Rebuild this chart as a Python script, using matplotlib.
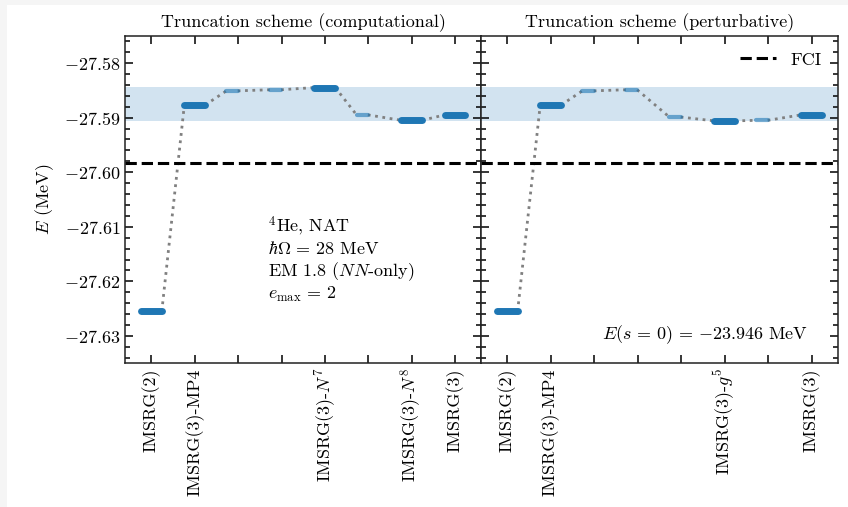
import numpy as np
import matplotlib.pyplot as plt
from matplotlib.patches import Rectangle
from matplotlib.ticker import MultipleLocator

plt.rcParams.update({
    'font.family': 'serif',
    'font.serif': ['cmr10'],
    'mathtext.fontset': 'cm',
    'axes.formatter.use_mathtext': True,
    'font.size': 13,
    'axes.linewidth': 1.1,
    'axes.edgecolor': '#222222',
})

# ground-state energies (MeV) for each truncation step
fci = -27.59835
band_lo, band_hi = -27.5906, -27.5844
e_s0 = -23.946

comp_labels = ['IMSRG(2)', 'IMSRG(3)-MP4', '', '', r'IMSRG(3)-$N^7$', '', r'IMSRG(3)-$N^8$', 'IMSRG(3)']
comp_energies = [-27.6255, -27.5877, -27.5851, -27.5849, -27.5845, -27.5895, -27.5905, -27.5895]
comp_major = [True, True, False, False, True, False, True, True]

pert_labels = ['IMSRG(2)', 'IMSRG(3)-MP4', '', '', '', r'IMSRG(3)-$g^5$', '', 'IMSRG(3)']
pert_energies = [-27.6255, -27.5877, -27.5851, -27.5849, -27.5899, -27.5906, -27.5905, -27.5895]
pert_major = [True, True, False, False, False, True, False, True]

blue = '#1f77b4'


def draw_levels(ax, energies, major):
    x = np.arange(len(energies))
    major = np.array(major)
    left = np.where(major, x - 0.24, x - 0.27)
    right = np.where(major, x + 0.24, x - 0.01)
    for i in range(len(energies) - 1):
        ax.plot([right[i], left[i + 1]], [energies[i], energies[i + 1]],
                ls=':', color='gray', lw=2, zorder=2)
    for i in x:
        if major[i]:
            ax.plot([left[i], right[i]], [energies[i]] * 2, color=blue,
                    lw=5, solid_capstyle='round', zorder=3)
        else:
            ax.plot([left[i], right[i]], [energies[i]] * 2, color=blue, alpha=0.6,
                    lw=3, solid_capstyle='round', zorder=3)


def style_axes(ax, labels):
    ax.axhspan(band_lo, band_hi, color=blue, alpha=0.2, lw=0, zorder=1)
    ax.axhline(fci, color='k', ls='--', lw=2.2, zorder=4, label='FCI')
    ax.set_xlim(-0.6, 7.6)
    ax.set_ylim(-27.635, -27.575)
    ax.set_xticks(np.arange(len(labels)))
    ax.set_xticklabels(labels, rotation=90)
    ax.yaxis.set_major_locator(MultipleLocator(0.01))
    ax.yaxis.set_minor_locator(MultipleLocator(0.002))
    ax.tick_params(which='both', direction='in', top=True, right=True, width=1.1)
    ax.tick_params(which='major', length=6)
    ax.tick_params(which='minor', length=3.5)


fig = plt.figure(figsize=(8.48, 5.07), dpi=100, facecolor='#f5f5f5')
fig.patches.append(Rectangle((7 / 848, 0), 1, 1 - 5 / 507, transform=fig.transFigure,
                             facecolor='white', edgecolor='none', zorder=-10))

ax1 = fig.add_axes([0.1478, 0.2834, 0.4195, 0.6462])
ax2 = fig.add_axes([0.5673, 0.2834, 0.4205, 0.6462], sharey=ax1)

draw_levels(ax1, comp_energies, comp_major)
draw_levels(ax2, pert_energies, pert_major)
style_axes(ax1, comp_labels)
style_axes(ax2, pert_labels)
ax2.tick_params(labelleft=False)

ax1.set_title('Truncation scheme (computational)', fontsize=13, pad=6)
ax2.set_title('Truncation scheme (perturbative)', fontsize=13, pad=6)
ax1.set_ylabel(r'$E$ (MeV)', labelpad=6)

info = [r'$^4$He, NAT', r'$\hbar\Omega\,=\,28$ MeV', r'EM 1.8 ($NN$-only)',
        r'$e_\mathrm{max}\,=\,2$']
for k, line in enumerate(info):
    ax1.text(0.40, 0.419 - 0.07 * k, line, transform=ax1.transAxes, va='center', ha='left')

ax2.text(0.917, 0.086, r'$E(s\,=\,0)\,=\,{%.3f}$ MeV' % e_s0, transform=ax2.transAxes,
         ha='right', va='center')
ax2.legend(loc='upper right', frameon=False, handlelength=2.0, fontsize=13)

fig.savefig('out.png', dpi=100, facecolor=fig.get_facecolor())
